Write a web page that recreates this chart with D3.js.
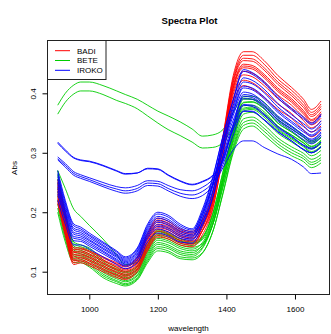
<!DOCTYPE html>
<html>
<head>
<meta charset="utf-8">
<style>
body{margin:0;background:#fff;}
svg text{font-family:"Liberation Sans",Arial,sans-serif;fill:#000;}
</style>
</head>
<body>
<svg id="svg"></svg>
<script src="https://cdnjs.cloudflare.com/ajax/libs/d3/7.8.5/d3.min.js"></script>
<script>
// wavelengths (nm) shared by every spectrum
var wavelengths = [908,930,955,975,1000,1040,1080,1105,1140,1170,1200,1230,1265,1300,1330,1360,1390,1420,1450,1475,1510,1550,1590,1625,1648,1676]

// BADI spectra (Abs)
var badi = [
  [0.243,0.188,0.132,0.133,0.128,0.118,0.108,0.103,0.118,0.156,0.180,0.176,0.164,0.160,0.184,0.230,0.328,0.430,0.470,0.470,0.455,0.430,0.410,0.390,0.373,0.387],
  [0.251,0.196,0.137,0.138,0.133,0.123,0.113,0.108,0.123,0.162,0.187,0.182,0.169,0.165,0.187,0.232,0.326,0.425,0.464,0.464,0.449,0.424,0.405,0.385,0.368,0.382],
  [0.235,0.180,0.126,0.128,0.123,0.113,0.103,0.099,0.113,0.150,0.174,0.170,0.159,0.155,0.178,0.225,0.321,0.421,0.459,0.458,0.443,0.419,0.400,0.380,0.364,0.378],
  [0.227,0.172,0.120,0.123,0.118,0.108,0.098,0.094,0.108,0.144,0.168,0.164,0.153,0.150,0.174,0.221,0.318,0.418,0.455,0.454,0.439,0.415,0.396,0.376,0.361,0.374],
  [0.255,0.200,0.140,0.140,0.135,0.125,0.115,0.110,0.125,0.165,0.190,0.185,0.172,0.168,0.186,0.226,0.317,0.413,0.449,0.447,0.432,0.409,0.391,0.371,0.356,0.369],
  [0.239,0.184,0.129,0.130,0.125,0.115,0.105,0.101,0.115,0.153,0.177,0.173,0.161,0.157,0.177,0.220,0.312,0.408,0.443,0.441,0.426,0.403,0.385,0.365,0.351,0.364],
  [0.223,0.168,0.118,0.120,0.115,0.105,0.095,0.092,0.105,0.141,0.164,0.161,0.150,0.147,0.169,0.213,0.307,0.403,0.437,0.434,0.419,0.397,0.380,0.360,0.347,0.358],
  [0.247,0.192,0.134,0.135,0.130,0.120,0.110,0.105,0.120,0.159,0.184,0.179,0.167,0.163,0.180,0.218,0.306,0.398,0.431,0.428,0.413,0.391,0.374,0.354,0.342,0.353],
  [0.215,0.160,0.112,0.115,0.110,0.100,0.090,0.087,0.100,0.135,0.158,0.155,0.145,0.142,0.162,0.205,0.297,0.390,0.422,0.418,0.403,0.382,0.366,0.346,0.335,0.345],
  [0.231,0.176,0.123,0.125,0.120,0.110,0.100,0.096,0.110,0.147,0.171,0.167,0.156,0.152,0.169,0.207,0.294,0.383,0.413,0.408,0.393,0.373,0.358,0.338,0.327,0.338],
  [0.219,0.164,0.115,0.118,0.113,0.103,0.093,0.089,0.103,0.138,0.161,0.158,0.148,0.145,0.169,0.216,0.312,0.410,0.446,0.444,0.429,0.406,0.388,0.368,0.354,0.366]
]

// BETE spectra
var bete = [
  [0.270,0.200,0.150,0.145,0.140,0.120,0.107,0.100,0.110,0.145,0.170,0.165,0.155,0.150,0.159,0.198,0.267,0.336,0.390,0.390,0.380,0.355,0.340,0.326,0.316,0.325],
  [0.256,0.190,0.143,0.139,0.134,0.114,0.102,0.095,0.105,0.139,0.163,0.158,0.148,0.144,0.156,0.197,0.268,0.340,0.395,0.395,0.385,0.360,0.345,0.330,0.320,0.330],
  [0.242,0.180,0.136,0.133,0.127,0.108,0.096,0.090,0.100,0.133,0.156,0.152,0.142,0.138,0.149,0.188,0.257,0.328,0.379,0.380,0.369,0.345,0.330,0.317,0.307,0.316],
  [0.228,0.170,0.129,0.127,0.121,0.102,0.091,0.085,0.095,0.127,0.149,0.145,0.135,0.132,0.145,0.186,0.258,0.332,0.384,0.385,0.374,0.350,0.335,0.321,0.311,0.321],
  [0.263,0.195,0.147,0.142,0.137,0.117,0.104,0.098,0.108,0.142,0.167,0.162,0.152,0.147,0.154,0.190,0.254,0.318,0.365,0.368,0.355,0.333,0.318,0.305,0.295,0.304],
  [0.214,0.160,0.122,0.121,0.114,0.096,0.085,0.080,0.090,0.121,0.142,0.139,0.129,0.126,0.139,0.179,0.249,0.322,0.370,0.373,0.360,0.338,0.323,0.310,0.300,0.309],
  [0.235,0.175,0.133,0.130,0.124,0.105,0.094,0.088,0.098,0.130,0.153,0.149,0.139,0.135,0.144,0.179,0.244,0.312,0.357,0.360,0.347,0.325,0.310,0.299,0.289,0.297],
  [0.200,0.150,0.115,0.115,0.108,0.090,0.080,0.076,0.086,0.115,0.135,0.132,0.122,0.120,0.131,0.167,0.233,0.304,0.346,0.350,0.336,0.315,0.300,0.290,0.280,0.288],
  [0.249,0.185,0.140,0.136,0.130,0.111,0.099,0.093,0.103,0.136,0.160,0.155,0.145,0.141,0.147,0.179,0.242,0.308,0.351,0.355,0.341,0.320,0.305,0.294,0.284,0.292],
  [0.221,0.165,0.126,0.124,0.118,0.099,0.088,0.083,0.093,0.124,0.146,0.142,0.132,0.129,0.141,0.181,0.251,0.324,0.373,0.375,0.363,0.340,0.325,0.312,0.302,0.311],
  [0.207,0.155,0.119,0.118,0.111,0.093,0.083,0.078,0.088,0.118,0.139,0.135,0.125,0.123,0.132,0.167,0.231,0.300,0.340,0.345,0.330,0.310,0.295,0.285,0.275,0.283],
  [0.270,0.240,0.205,0.193,0.178,0.155,0.128,0.112,0.116,0.145,0.168,0.163,0.152,0.148,0.157,0.195,0.262,0.333,0.385,0.386,0.374,0.350,0.335,0.320,0.310,0.320],
  [0.380,0.400,0.414,0.419,0.419,0.413,0.404,0.398,0.390,0.380,0.370,0.362,0.352,0.340,0.328,0.330,0.339,0.368,0.392,0.390,0.378,0.356,0.340,0.327,0.318,0.326],
  [0.365,0.385,0.399,0.404,0.404,0.398,0.388,0.383,0.374,0.362,0.350,0.339,0.329,0.318,0.308,0.309,0.317,0.345,0.375,0.377,0.366,0.344,0.330,0.316,0.307,0.315]
]

// IROKO spectra
var iroko = [
  [0.270,0.220,0.180,0.175,0.165,0.150,0.135,0.125,0.140,0.180,0.200,0.195,0.180,0.172,0.205,0.259,0.328,0.388,0.437,0.432,0.417,0.392,0.372,0.357,0.348,0.362],
  [0.260,0.212,0.173,0.169,0.160,0.145,0.130,0.121,0.135,0.174,0.193,0.188,0.174,0.167,0.201,0.256,0.328,0.390,0.440,0.435,0.420,0.395,0.375,0.360,0.350,0.365],
  [0.250,0.204,0.166,0.163,0.154,0.140,0.126,0.117,0.130,0.168,0.186,0.181,0.168,0.162,0.195,0.248,0.320,0.380,0.426,0.422,0.407,0.383,0.364,0.349,0.340,0.354],
  [0.240,0.196,0.159,0.157,0.149,0.135,0.121,0.113,0.125,0.162,0.179,0.174,0.162,0.158,0.190,0.243,0.316,0.375,0.419,0.416,0.401,0.377,0.359,0.344,0.335,0.349],
  [0.265,0.216,0.177,0.172,0.162,0.148,0.133,0.123,0.138,0.177,0.197,0.192,0.177,0.170,0.199,0.248,0.314,0.368,0.409,0.406,0.391,0.368,0.350,0.335,0.328,0.340],
  [0.230,0.188,0.152,0.151,0.143,0.130,0.117,0.109,0.120,0.156,0.172,0.167,0.156,0.153,0.183,0.234,0.306,0.363,0.402,0.399,0.384,0.362,0.345,0.330,0.323,0.335],
  [0.245,0.200,0.163,0.160,0.152,0.138,0.124,0.115,0.128,0.165,0.183,0.178,0.165,0.160,0.189,0.236,0.304,0.355,0.391,0.390,0.375,0.353,0.337,0.322,0.315,0.327],
  [0.220,0.180,0.145,0.145,0.138,0.125,0.112,0.105,0.115,0.150,0.165,0.160,0.150,0.148,0.177,0.224,0.295,0.348,0.381,0.380,0.365,0.344,0.328,0.313,0.308,0.318],
  [0.255,0.208,0.170,0.166,0.157,0.143,0.128,0.119,0.133,0.171,0.190,0.185,0.171,0.165,0.195,0.246,0.314,0.370,0.412,0.409,0.394,0.371,0.353,0.338,0.330,0.343],
  [0.235,0.192,0.156,0.154,0.146,0.133,0.119,0.111,0.123,0.159,0.176,0.171,0.159,0.155,0.181,0.225,0.292,0.340,0.370,0.370,0.355,0.335,0.320,0.305,0.300,0.310],
  [0.318,0.305,0.292,0.288,0.286,0.279,0.270,0.265,0.266,0.274,0.273,0.263,0.253,0.247,0.252,0.262,0.285,0.345,0.395,0.393,0.378,0.356,0.340,0.326,0.318,0.330],
  [0.316,0.303,0.291,0.287,0.285,0.278,0.269,0.264,0.266,0.273,0.272,0.262,0.252,0.246,0.251,0.261,0.287,0.348,0.398,0.396,0.381,0.359,0.343,0.329,0.321,0.333],
  [0.293,0.282,0.268,0.263,0.258,0.250,0.243,0.241,0.245,0.253,0.252,0.245,0.238,0.236,0.242,0.256,0.290,0.340,0.380,0.378,0.363,0.342,0.327,0.312,0.306,0.318],
  [0.290,0.279,0.265,0.260,0.255,0.246,0.239,0.236,0.240,0.249,0.248,0.240,0.232,0.229,0.235,0.250,0.280,0.330,0.370,0.369,0.356,0.336,0.320,0.306,0.300,0.310],
  [0.288,0.276,0.262,0.257,0.252,0.243,0.235,0.232,0.236,0.245,0.244,0.236,0.227,0.223,0.228,0.245,0.275,0.305,0.320,0.320,0.309,0.298,0.289,0.276,0.265,0.266]
]

var classNames = ['BADI','BETE','IROKO']
var classColors = ['#ff0000','#00cd00','#0000ff']
var xTicks = [1000,1200,1400,1600]
var yTicks = [0.1,0.2,0.3,0.4]

var width = 331, height = 334
var box = {left:47.5, right:329.5, top:40.5, bottom:294.5}

var x = d3.scaleLinear().domain([878.7,1700.1]).range([47.7,329.3])
var y = d3.scaleLinear().domain([0.0608,0.488]).range([295,41])

var svg = d3.select('#svg').attr('width',width).attr('height',height)

var line = d3.line()
  .x(function(d,i){ return x(wavelengths[i]) })
  .y(function(d){ return y(d) })
  .curve(d3.curveMonotoneX)

// draw order: BETE, BADI, IROKO
var groups = [[bete,1],[badi,0],[iroko,2]]
groups.forEach(function(g){
  svg.append('g').selectAll('path')
    .data(g[0])
    .enter().append('path')
    .attr('d',line)
    .attr('fill','none')
    .attr('stroke',classColors[g[1]])
    .attr('stroke-width',0.9)
})

// box
svg.append('rect')
  .attr('x',box.left).attr('y',box.top)
  .attr('width',box.right-box.left).attr('height',box.bottom-box.top)
  .attr('fill','none').attr('stroke','#222').attr('stroke-width',1)

// axes
var xAxis = d3.axisBottom(x).tickValues(xTicks).tickSize(5).tickPadding(7).tickFormat(d3.format('d'))
var gx = svg.append('g').attr('transform','translate(0,'+box.bottom+')').call(xAxis)
gx.select('.domain').remove()
gx.selectAll('text').style('font-size','8px').attr('fill','#000')

var yAxis = d3.axisLeft(y).tickValues(yTicks).tickSize(5).tickFormat(d3.format('.1f'))
var gy = svg.append('g').attr('transform','translate('+box.left+',0)').call(yAxis)
gy.select('.domain').remove()
gy.selectAll('text')
  .attr('x',0).attr('dy',0).attr('y',-11.5)
  .attr('transform','rotate(-90)')
  .style('text-anchor','middle')
  .style('font-size','8px').attr('fill','#000')

// titles
svg.append('text').attr('x',189.5).attr('y',23.5)
  .attr('text-anchor','middle').style('font-size','9.6px').style('font-weight','bold')
  .text('Spectra Plot')
svg.append('text').attr('x',188.5).attr('y',331)
  .attr('text-anchor','middle').style('font-size','8px')
  .text('wavelength')
svg.append('text').attr('transform','translate(16.5,168) rotate(-90)')
  .attr('text-anchor','middle').style('font-size','8px')
  .text('Abs')

// legend
var legend = svg.append('g')
legend.append('rect')
  .attr('x',box.left).attr('y',box.top).attr('width',58.5).attr('height',39)
  .attr('fill','#fff').attr('stroke','#222').attr('stroke-width',1)
var items = legend.selectAll('g.item').data(classNames).enter().append('g')
  .attr('transform',function(d,i){ return 'translate(0,'+(50.7+i*9.8)+')' })
items.append('line').attr('x1',55).attr('x2',70).attr('y1',0).attr('y2',0)
  .attr('stroke',function(d,i){ return classColors[i] }).attr('stroke-width',1)
items.append('text').attr('x',77).attr('y',2.9).style('font-size','8px').text(function(d){ return d })
</script>
</body>
</html>
